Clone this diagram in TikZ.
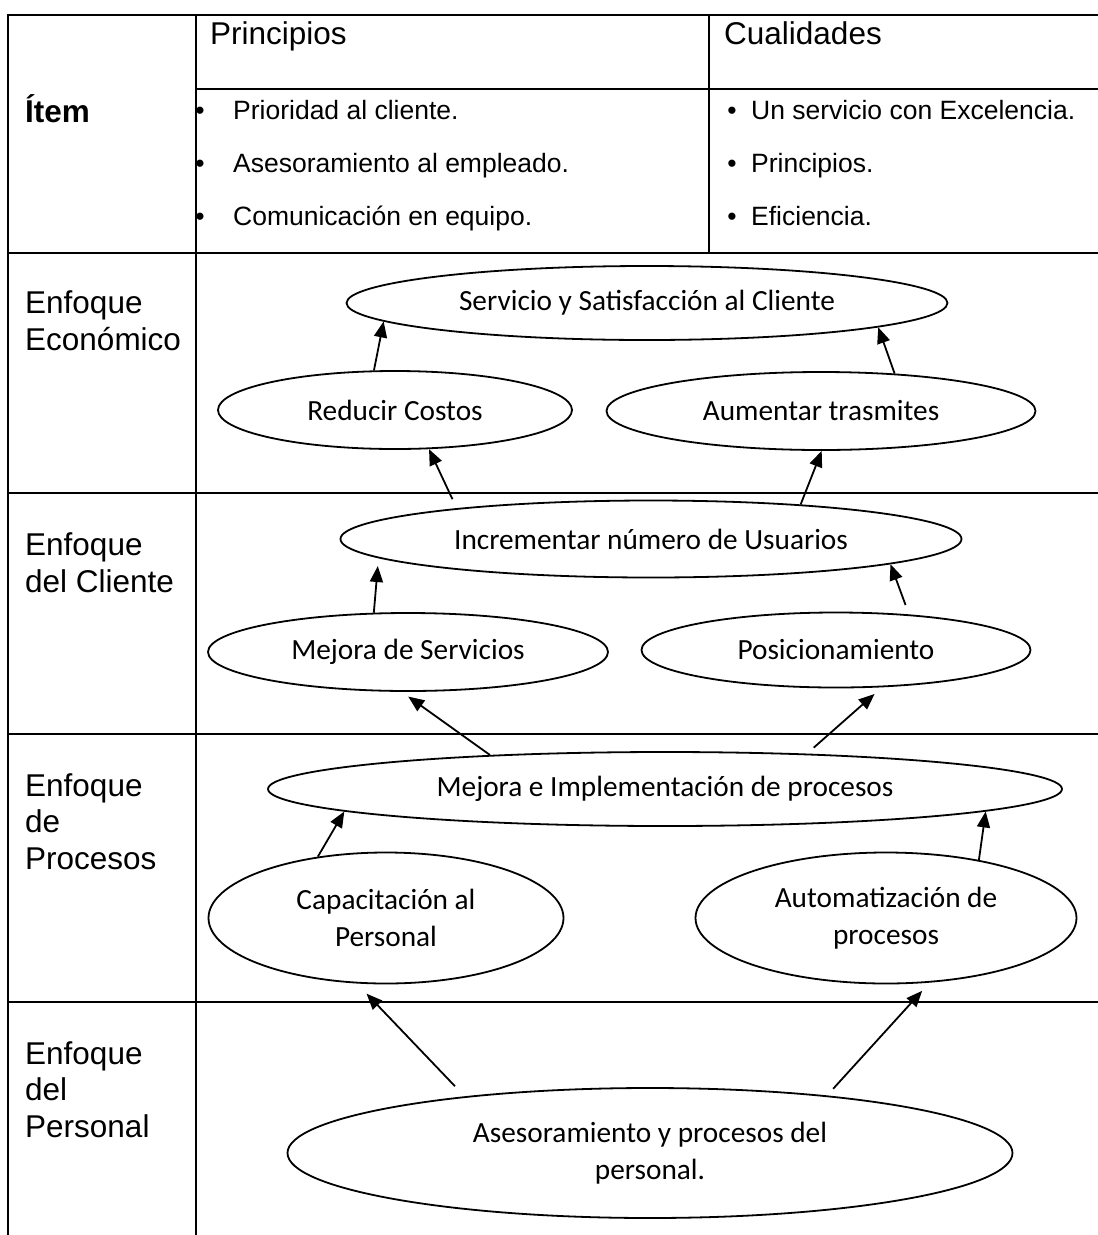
\documentclass[tikz,border=0pt]{standalone}
\usepackage{fontspec}
\setmainfont{Liberation Sans}
\newfontfamily\ovalfont{Carlito}
\usetikzlibrary{arrows.meta,shapes.geometric}

\begin{document}
\begin{tikzpicture}[x=1pt,y=-1pt,
    tabline/.style={line width=2pt},
    rowlabel/.style={anchor=base west, inner sep=0, align=left,
                     font=\fontsize{31.5}{36.5}\selectfont},
    listtext/.style={anchor=base west, inner sep=0,
                     font=\fontsize{26.5}{30}\selectfont},
    goal/.style={ellipse, draw, line width=1.8pt, inner sep=0, align=center,
                 font=\ovalfont\fontsize{29.3}{37}\selectfont},
    link/.style={-{Triangle[length=16pt,width=13pt]}, line width=1.8pt}]
  \useasboundingbox (0,0) rectangle (1098,1235);

  % table
  \draw[tabline] (1098,15) -- (8,15) -- (8,1235);
  \draw[tabline] (196,15) -- (196,1235);
  \draw[tabline] (196,89) -- (1098,89);
  \draw[tabline] (709,15) -- (709,253);
  \foreach \y in {253,493,734,1002}
    \draw[tabline] (8,\y) -- (1098,\y);

  % header row
  \node[rowlabel, font=\bfseries\fontsize{31.5}{36.5}\selectfont] (item) at (25,122) {Ítem};
  \node[rowlabel] (princ) at (210,44) {Principios};
  \node[rowlabel] (cual)  at (724,44) {Cualidades};
  \foreach \txt [count=\i] in {Prioridad al cliente., Asesoramiento al empleado., Comunicación en equipo.} {
    \node[listtext] (p\i) at (233,{66+53*\i}) {\txt};
    \node[listtext, anchor=base] (pb\i) at (200,{66+53*\i}) {\textbullet};
  }
  \foreach \txt [count=\i] in {Un servicio con Excelencia., Principios., Eficiencia.} {
    \node[listtext] (c\i) at (751,{66+53*\i}) {\txt};
    \node[listtext, anchor=base] (cb\i) at (732,{66+53*\i}) {\textbullet};
  }

  % row labels (base = last line)
  \node[rowlabel] (eco) at (25,350)  {Enfoque\\Económico};
  \node[rowlabel] (cli) at (25,592)  {Enfoque\\del Cliente};
  \node[rowlabel] (pro) at (25,869)  {Enfoque\\de\\Procesos};
  \node[rowlabel] (per) at (25,1137) {Enfoque\\del\\Personal};

  % goals
  \node[goal, minimum width=601pt, minimum height=74pt]  (serv) at (647,303)  {Servicio y Satisfacción al Cliente};
  \node[goal, minimum width=354pt, minimum height=78pt]  (red)  at (395,410)  {Reducir Costos};
  \node[goal, minimum width=429pt, minimum height=78pt]  (aum)  at (821,411)  {Aumentar trasmites};
  \node[goal, minimum width=621pt, minimum height=77pt]  (inc)  at (651,539)  {Incrementar número de Usuarios};
  \node[goal, minimum width=400pt, minimum height=78pt]  (mej)  at (408,652)  {Mejora de Servicios};
  \node[goal, minimum width=389pt, minimum height=75pt]  (pos)  at (836,650)  {Posicionamiento};
  \node[goal, minimum width=794pt, minimum height=74pt]  (imp)  at (665,789)  {Mejora e Implementación de procesos};
  \node[goal, minimum width=355pt, minimum height=131pt] (cap)  at (386,918)  {Capacitación al\\Personal};
  \node[goal, minimum width=381pt, minimum height=131pt] (aut)  at (886,918)  {Automatización de\\procesos};
  \node[goal, minimum width=725pt, minimum height=130pt] (ase)  at (650,1153) {Asesoramiento y procesos del\\personal.};

  % links
  \draw[link] (red.118.5) -- (serv.184.75);
  \draw[link] (aum.27.6) -- (serv.-6.84);
  \draw[link, shorten <=10pt] (inc.171.2) -- (red.-49.2);
  \draw[link] (inc.13.8) -- (aum.-89);
  \draw[link, shorten >=8pt] (mej.131.5) -- (inc.184.5);
  \draw[link, shorten <=10pt] (pos.26.6) -- (inc.-6.8);
  \draw[link, shorten >=8pt] (imp.169.6) -- (mej.261.3);
  \draw[link, shorten <=9pt, shorten >=10pt] (imp.14.35) -- (pos.-39);
  \draw[link] (cap.138.3) -- (imp.184);
  \draw[link] (aut.32.5) -- (imp.-4.9);
  \draw[link, shorten <=14pt, shorten >=14pt] (ase.163.5) -- (cap.246.6);
  \draw[link, shorten <=9pt, shorten >=11pt] (ase.18.5) -- (aut.-56.5);
\end{tikzpicture}
\end{document}
